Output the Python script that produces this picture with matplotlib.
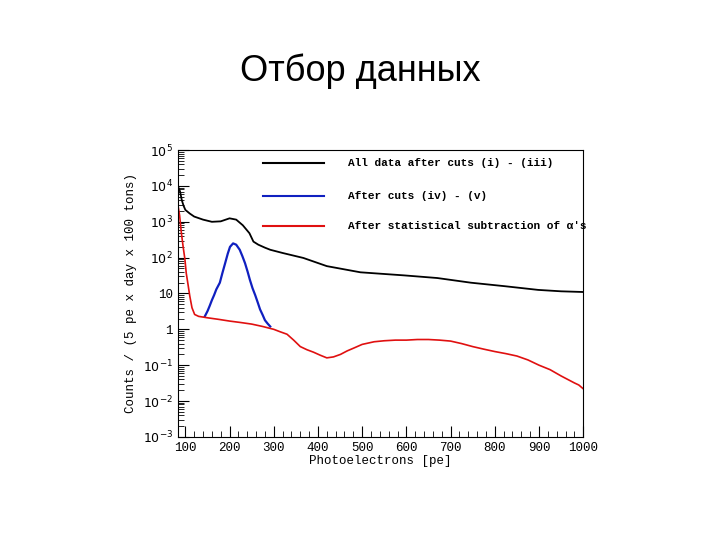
import matplotlib
matplotlib.use("Agg")
import matplotlib.pyplot as plt
import matplotlib.ticker as mt
import numpy as np

# Black: all data after cuts
blk_x = [83, 88, 92, 96, 100, 110, 120, 140, 160, 180, 200, 215, 230, 245, 254, 265, 280, 292, 320, 367, 420, 496, 595, 670, 746, 822, 898, 950, 1000]
blk_y = [10000, 7000, 4000, 2800, 2150, 1700, 1400, 1150, 1000, 1030, 1250, 1150, 800, 480, 280, 230, 190, 166, 135, 98, 58, 39, 32, 27, 20, 16, 12.6, 11.5, 11]
# Blue: after cuts (iv)-(v)
blu_x = [144, 150, 155, 160, 165, 170, 178, 184, 190, 196, 201, 208, 215, 223, 229, 235, 241, 246, 252, 258, 264, 269, 275, 280, 286, 292]
blu_y = [2.3, 3.2, 4.5, 6.5, 9, 13, 20, 38, 70, 130, 200, 250, 230, 166, 110, 70, 40, 24, 14, 9, 5.5, 3.6, 2.5, 1.8, 1.45, 1.2]
# Red: after statistical subtraction of alphas
red_x = [83, 87, 91, 95, 99, 102, 106, 110, 115, 121, 130, 150, 175, 200, 225, 250, 275, 300, 315, 330, 345, 360, 375, 390, 405, 420, 435, 451, 466, 481, 500, 527, 550, 575, 600, 625, 650, 675, 700, 725, 750, 775, 800, 825, 850, 875, 900, 925, 950, 965, 980, 990, 1000]
red_y = [3000, 1500, 490, 200, 90, 37, 18, 8.5, 4, 2.6, 2.3, 2.1, 1.9, 1.7, 1.55, 1.4, 1.2, 1.0, 0.85, 0.73, 0.5, 0.33, 0.27, 0.23, 0.19, 0.16, 0.17, 0.2, 0.25, 0.3, 0.38, 0.45, 0.48, 0.5, 0.5, 0.52, 0.52, 0.5, 0.47, 0.4, 0.33, 0.28, 0.24, 0.21, 0.18, 0.14, 0.1, 0.075, 0.05, 0.04, 0.032, 0.028, 0.022]

legend_labels = ["All data after cuts (i) - (iii)", "After cuts (iv) - (v)", "After statistical subtraction of \u03b1's"]
mono = "Liberation Mono"

fig = plt.figure(figsize=(7.2, 5.4), dpi=100)
fig.text(0.5, 0.868, "Отбор данных", ha="center", va="center", fontsize=26, family="Liberation Sans")
ax = fig.add_axes([0.247, 0.191, 0.563, 0.531])
ax.plot(blk_x, blk_y, color="black", lw=1.3)
ax.plot(blu_x, blu_y, color="#1020c0", lw=1.6)
ax.plot(red_x, red_y, color="#e01010", lw=1.2)
ax.set_yscale("log")
ax.set_xlim(83, 1000)
ax.set_ylim(1e-3, 1e5)

def yfmt(v, p):
    e = int(round(np.log10(v)))
    if e == 0: return "1"
    if e == 1: return "10"
    return r"$10^{%d}$" % e
ax.yaxis.set_major_formatter(mt.FuncFormatter(yfmt))
ax.yaxis.set_minor_locator(mt.LogLocator(subs=np.arange(2, 10)))
ax.yaxis.set_minor_formatter(mt.NullFormatter())
ax.xaxis.set_major_locator(mt.MultipleLocator(100))
ax.xaxis.set_minor_locator(mt.MultipleLocator(20))
ax.tick_params(which="both", direction="in", top=False, right=False, labelsize=9)
ax.tick_params(which="major", length=8)
ax.tick_params(which="minor", length=4)
for lab in ax.get_xticklabels() + ax.get_yticklabels():
    lab.set_family(mono)
ax.set_xlabel("Photoelectrons [pe]", family=mono, fontsize=9, labelpad=1)
ax.set_ylabel("Counts / (5 pe x day x 100 tons)", family=mono, fontsize=9)

cols = ["black", "#1020c0", "#e01010"]
ys = [0.955, 0.84, 0.735]
for lab, c, yy in zip(legend_labels, cols, ys):
    ax.plot([0.21, 0.36], [yy, yy], color=c, lw=1.5, transform=ax.transAxes)
    ax.text(0.42, yy, lab, transform=ax.transAxes, va="center", family=mono, fontsize=8, fontweight="bold")

fig.savefig("out.png", dpi=100)
